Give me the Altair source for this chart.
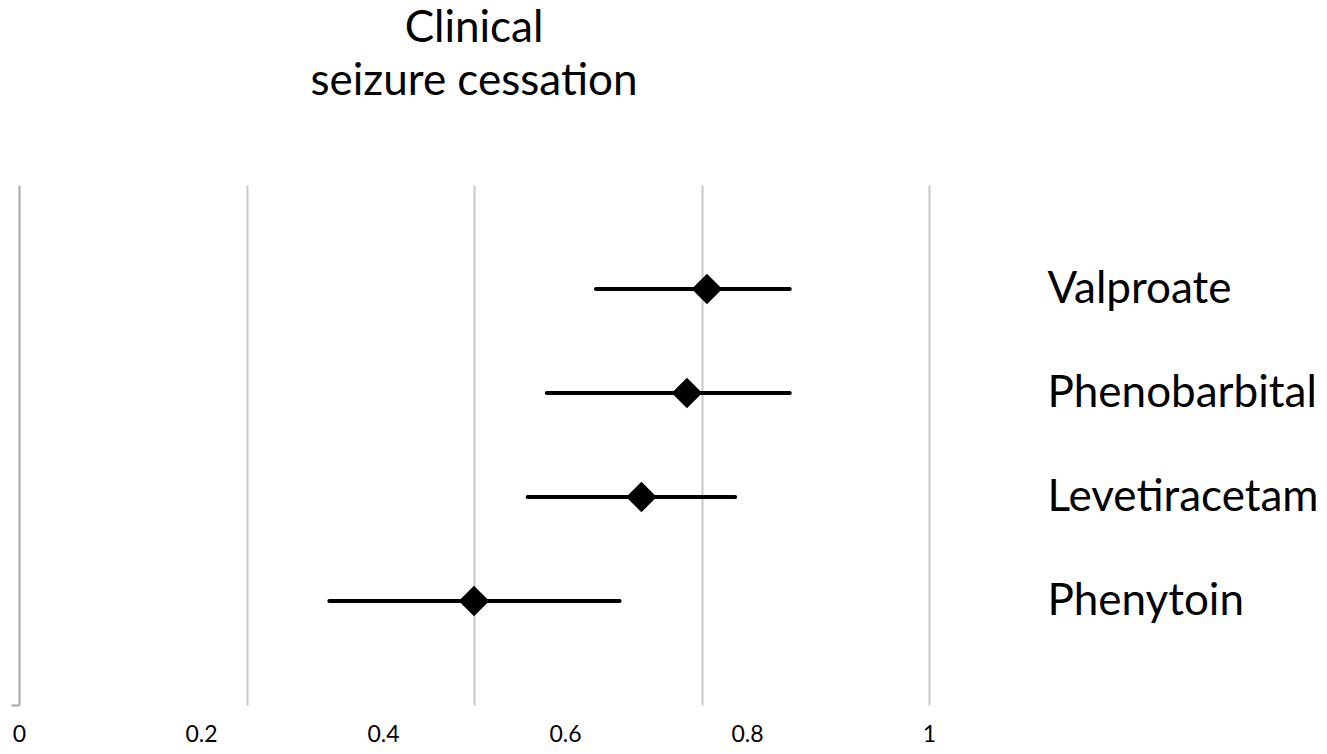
import altair as alt
import pandas as pd

drugs = ["Valproate", "Phenobarbital", "Levetiracetam", "Phenytoin"]
rank = [4, 3, 2, 1]
estimate = [0.756, 0.734, 0.684, 0.500]
lower = [0.634, 0.580, 0.559, 0.341]
upper = [0.847, 0.847, 0.787, 0.660]
x_label_ticks = [0, 0.2, 0.4, 0.6, 0.8, 1]
grid_ticks = [0.25, 0.5, 0.75, 1]
title_lines = ["Clinical", "seizure cessation"]

df = pd.DataFrame(dict(drug=drugs, pos=rank, est=estimate, lo=lower, hi=upper))

label_expr = " : ".join(f"datum.value == {r} ? '{d}'" for d, r in zip(drugs, rank)) + " : ''"

FONT = "Lato"
xscale = alt.Scale(domain=[0, 1], nice=False, zero=False)
yscale = alt.Scale(domain=[0, 5], nice=False, zero=False)

label_axis = alt.Axis(values=x_label_ticks, grid=False, domain=False, ticks=False,
                      labelFontSize=23, labelFont=FONT, labelColor="black",
                      labelPadding=18, title=None, labelFlush=False,
                      labelOverlap=False, format="~g")
grid_axis = alt.Axis(values=grid_ticks, grid=True, gridColor="#c8c8c8", gridWidth=2,
                     labels=False, ticks=False, domain=False, title=None)
right_axis = alt.Axis(orient="right", values=rank, labelExpr=label_expr, ticks=False,
                      domain=False, grid=False, labelPadding=118, labelFontSize=44,
                      labelFont=FONT, labelColor="black", labelAlign="left",
                      labelBaseline="middle", title=None, labelLimit=500)
left_axis = alt.Axis(orient="left", values=[0], grid=False, labels=False, ticks=True,
                     tickSize=8, tickColor="#a6a6a6", tickWidth=2,
                     domainColor="#a6a6a6", domainWidth=2, title=None)

errbars = alt.Chart(df).mark_rule(strokeWidth=4, strokeCap="round", color="black").encode(
    x=alt.X("lo:Q", scale=xscale, axis=label_axis),
    x2="hi:Q",
    y=alt.Y("pos:Q", scale=yscale, axis=right_axis),
)

points = alt.Chart(df).mark_point(shape="diamond", filled=True, size=930,
                                  color="black", opacity=1).encode(
    x=alt.X("est:Q", scale=xscale, axis=grid_axis),
    y=alt.Y("pos:Q", scale=yscale, axis=left_axis),
)

chart = alt.layer(errbars, points).resolve_axis(
    x="independent", y="independent"
).properties(
    width=910,
    height=520,
    autosize="none",
    background="white",
    padding={"left": 11, "top": 177, "right": 390, "bottom": 41},
    title=alt.TitleParams(text=title_lines, fontSize=44, font=FONT, fontWeight="normal",
                          color="black", anchor="middle", baseline="alphabetic",
                          offset=46, lineHeight=53, frame="group"),
).configure_view(strokeWidth=0, stroke="transparent")

chart.save("out.html", embed_options={"renderer": "svg", "actions": False})
